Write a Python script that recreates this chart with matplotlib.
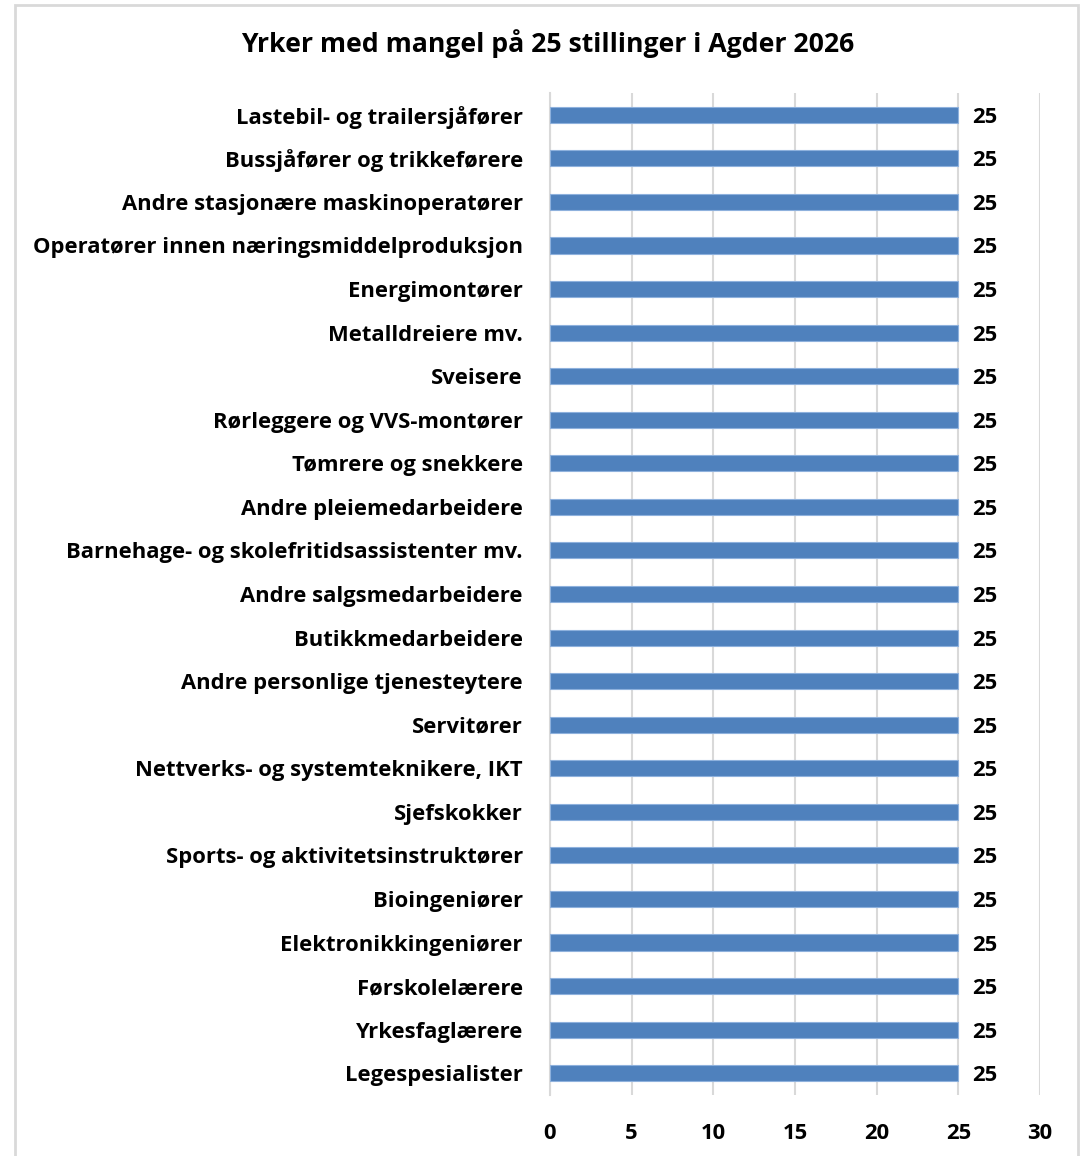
import matplotlib.pyplot as plt
import numpy as np

yrker = [
    'Lastebil- og trailersjåfører',
    'Bussjåfører og trikkeførere',
    'Andre stasjonære maskinoperatører',
    'Operatører innen næringsmiddelproduksjon',
    'Energimontører',
    'Metalldreiere mv.',
    'Sveisere',
    'Rørleggere og VVS-montører',
    'Tømrere og snekkere',
    'Andre pleiemedarbeidere',
    'Barnehage- og skolefritidsassistenter mv.',
    'Andre salgsmedarbeidere',
    'Butikkmedarbeidere',
    'Andre personlige tjenesteytere',
    'Servitører',
    'Nettverks- og systemteknikere, IKT',
    'Sjefskokker',
    'Sports- og aktivitetsinstruktører',
    'Bioingeniører',
    'Elektronikkingeniører',
    'Førskolelærere',
    'Yrkesfaglærere',
    'Legespesialister',
]
mangel = [25] * 23
xticks = [0, 5, 10, 15, 20, 25, 30]

plt.rcParams['font.family'] = ['Open Sans', 'DejaVu Sans']
fs = 15.8

fig = plt.figure(figsize=(10.84, 11.56), dpi=100)
# grey frame round the chart
fig.add_artist(plt.Rectangle((15/1084, -0.01), 1063/1084, 1 - 5/1156 + 0.01,
                             transform=fig.transFigure, fill=False,
                             edgecolor='#d9d9d9', linewidth=2))
ax = fig.add_axes([550/1084, 1 - 1095/1156, 490/1084, 1002/1156])

y = np.arange(len(yrker))
ax.barh(y, mangel, height=0.37, color='#4f81bd', edgecolor='#8eb1dd', linewidth=0.8, zorder=3)
for yi, v in zip(y, mangel):
    ax.text(v + 0.85, yi, str(v), va='center_baseline', ha='left', fontsize=fs,
            fontweight='bold', color='black')

ax.set_yticks(y)
ax.set_yticklabels(yrker, fontsize=fs, fontweight='bold')
ax.set_ylim(len(yrker) - 0.5, -0.5)
ax.set_xlim(0, 30)
ax.set_xticks(xticks)
ax.set_xticklabels([str(t) for t in xticks], fontsize=fs, fontweight='bold')
ax.tick_params(length=0)
ax.tick_params(axis='y', pad=19.5)
ax.tick_params(axis='x', pad=20)
ax.grid(axis='x', color='#d9d9d9', linewidth=1.5, zorder=0)
for s in ['top', 'right', 'bottom']:
    ax.spines[s].set_visible(False)
ax.spines['left'].set_color('#d9d9d9')
ax.spines['left'].set_linewidth(1.5)

fig.text(548/1084, 1 - 44/1156, 'Yrker med mangel på 25 stillinger i Agder 2026',
         ha='center', va='center', fontsize=19.2, fontweight='bold')

fig.savefig('out.png', dpi=100, facecolor='white')
